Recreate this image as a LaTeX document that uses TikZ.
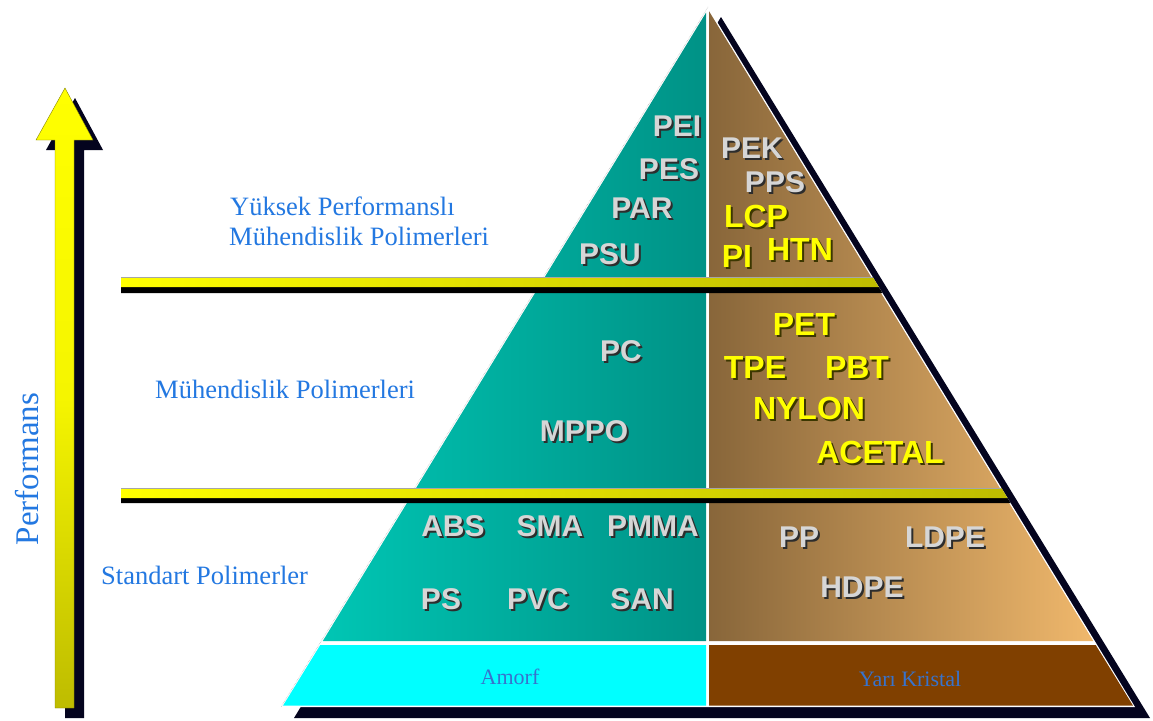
\documentclass[tikz,border=0pt]{standalone}
\usepackage{fontspec}
\setmainfont{Liberation Serif}
\newfontfamily\labelsans{Liberation Sans}
\usetikzlibrary{calc}

\definecolor{tealL}{RGB}{0,198,180}
\definecolor{tealR}{RGB}{0,146,134}
\definecolor{tanL}{RGB}{136,102,58}
\definecolor{tanR}{RGB}{240,184,108}
\definecolor{amorfcyan}{RGB}{0,255,255}
\definecolor{crystbrown}{RGB}{128,64,0}
\definecolor{shadowdark}{RGB}{4,4,30}
\definecolor{barYellow}{RGB}{255,255,0}
\definecolor{barOlive}{RGB}{190,188,0}
\definecolor{labelblue}{RGB}{35,120,225}
\definecolor{bandblue}{RGB}{55,115,205}
\definecolor{labgray}{RGB}{214,214,214}
\definecolor{labyellow}{RGB}{255,255,0}
\definecolor{txtshadow}{RGB}{45,45,45}
\definecolor{ytxtshadow}{RGB}{60,55,0}

% text with a small drop shadow behind it
\newcommand{\embossed}[2][txtshadow]{%
  \makebox[0pt][l]{\kern2pt\raisebox{-2pt}{\color{#1}#2}}#2}

\begin{document}
\begin{tikzpicture}[x=1pt,y=-1pt,
  serifblue/.style={font=\fontsize{26.5}{30}\selectfont, text=labelblue, inner sep=0pt},
  bandtext/.style={font=\fontsize{22}{24}\selectfont, text=bandblue, inner sep=0pt},
  graylab/.style={font=\labelsans\bfseries\fontsize{30}{30}\selectfont, text=labgray, inner sep=0pt},
  yellab/.style={font=\labelsans\bfseries\fontsize{32}{32}\selectfont, text=labyellow, inner sep=0pt},
  barshade/.style={left color=barYellow, right color=barOlive}]

\fill[white] (0,0) rectangle (1153,720);
\useasboundingbox (0,0) rectangle (1153,720);

% ---------- performance arrow ----------
\fill[shadowdark] (65,718) -- (65,150) -- (46,150) -- (75,98) -- (103,150)
  -- (84,150) -- (84,718) -- cycle;
\shade[top color=barYellow, bottom color=barOlive, middle color={rgb,255:red,245;green,245;blue,0}]
  (55,708) -- (55,140) -- (36,140) -- (65,88) -- (93,140) -- (74,140) -- (74,708) -- cycle;
\draw[barOlive!70!black, line width=0.4pt]
  (55,708) -- (55,140) -- (36,140) -- (65,88) -- (93,140) -- (74,140) -- (74,708) -- cycle;
\node[rotate=90, font=\fontsize{33}{33}\selectfont, text=labelblue, inner sep=0pt]
  (perf) at (27,469) {Performans};

% ---------- pyramid ----------
% drop shadow
\fill[shadowdark] (721,17) -- (294,718) -- (1150,718) -- cycle;
% white body (shows as thin outline and dividers)
\fill[white] (708,7) -- (281,707) -- (1135,707) -- cycle;
% amorphous half
\shade[left color=tealL, right color=tealR]
  (706,12.7) -- (322.8,641) -- (706,641) -- cycle;
% semi-crystalline half
\shade[left color=tanL, right color=tanR]
  (709,11.2) -- (1093.2,641) -- (709,641) -- cycle;
% base strips
\fill[amorfcyan] (320.3,645) -- (706,645) -- (706,705.5) -- (283.1,705.5) -- cycle;
\fill[crystbrown] (709,645) -- (1095.7,645) -- (1132.9,705.5) -- (709,705.5) -- cycle;
\draw[gray!60, line width=0.5pt, densely dotted] (708,7) -- (281,707);

% ---------- class separator bars ----------
\fill[black] (121,287) -- (878.8,287) -- (882.5,293) -- (121,293) -- cycle;
\shade[barshade] (121,277) -- (872.7,277) -- (878.8,287) -- (121,287) -- cycle;
\draw[gray!70, line width=0.4pt] (121,277) -- (872.7,277);

\fill[black] (121,498) -- (1007.5,498) -- (1010.6,503) -- (121,503) -- cycle;
\shade[barshade] (121,488) -- (1001.4,488) -- (1007.5,498) -- (121,498) -- cycle;
\draw[gray!70, line width=0.4pt] (121,488) -- (1001.4,488);

% ---------- class names ----------
\node[serifblue, anchor=base west] (hp1) at (230,215) {Yüksek Performanslı};
\node[serifblue, anchor=base west] (hp2) at (229,245) {Mühendislik Polimerleri};
\node[serifblue, anchor=base west] (eng) at (155,398) {Mühendislik Polimerleri};
\node[serifblue, anchor=base west] (std) at (101,584) {Standart Polimerler};

\node[bandtext, anchor=base] (amorf) at (510,684) {Amorf};
\node[bandtext, anchor=base] (yari) at (910,686) {Yarı Kristal};

% ---------- high performance ----------
\node[graylab] (pei) at (677,127) {\embossed{PEI}};
\node[graylab] (pes) at (669,170) {\embossed{PES}};
\node[graylab] (par) at (642,209) {\embossed{PAR}};
\node[graylab] (psu) at (610,255) {\embossed{PSU}};
\node[graylab] (pek) at (752,149) {\embossed{PEK}};
\node[graylab] (pps) at (775,183) {\embossed{PPS}};
\node[yellab] (lcp) at (756,217) {\embossed[ytxtshadow]{LCP}};
\node[yellab] (pi)  at (737,257) {\embossed[ytxtshadow]{PI}};
\node[yellab] (htn) at (800,250) {\embossed[ytxtshadow]{HTN}};

% ---------- engineering ----------
\node[graylab] (pc)   at (621,352) {\embossed{PC}};
\node[graylab] (mppo) at (584,432) {\embossed{MPPO}};
\node[yellab] (pet)    at (804,325) {\embossed[ytxtshadow]{PET}};
\node[yellab] (tpe)    at (755,368) {\embossed[ytxtshadow]{TPE}};
\node[yellab] (pbt)    at (857,368) {\embossed[ytxtshadow]{PBT}};
\node[yellab] (nylon)  at (809,409) {\embossed[ytxtshadow]{NYLON}};
\node[yellab] (acetal) at (880,453) {\embossed[ytxtshadow]{ACETAL}};

% ---------- standard ----------
\node[graylab] (abs)  at (453,527) {\embossed{ABS}};
\node[graylab] (sma)  at (550,527) {\embossed{SMA}};
\node[graylab] (pmma) at (653,527) {\embossed{PMMA}};
\node[graylab] (ps)   at (441,600) {\embossed{PS}};
\node[graylab] (pvc)  at (538,600) {\embossed{PVC}};
\node[graylab] (san)  at (642,600) {\embossed{SAN}};
\node[graylab] (pp)   at (799,538) {\embossed{PP}};
\node[graylab] (ldpe) at (945,538) {\embossed{LDPE}};
\node[graylab] (hdpe) at (862,588) {\embossed{HDPE}};

\end{tikzpicture}
\end{document}
